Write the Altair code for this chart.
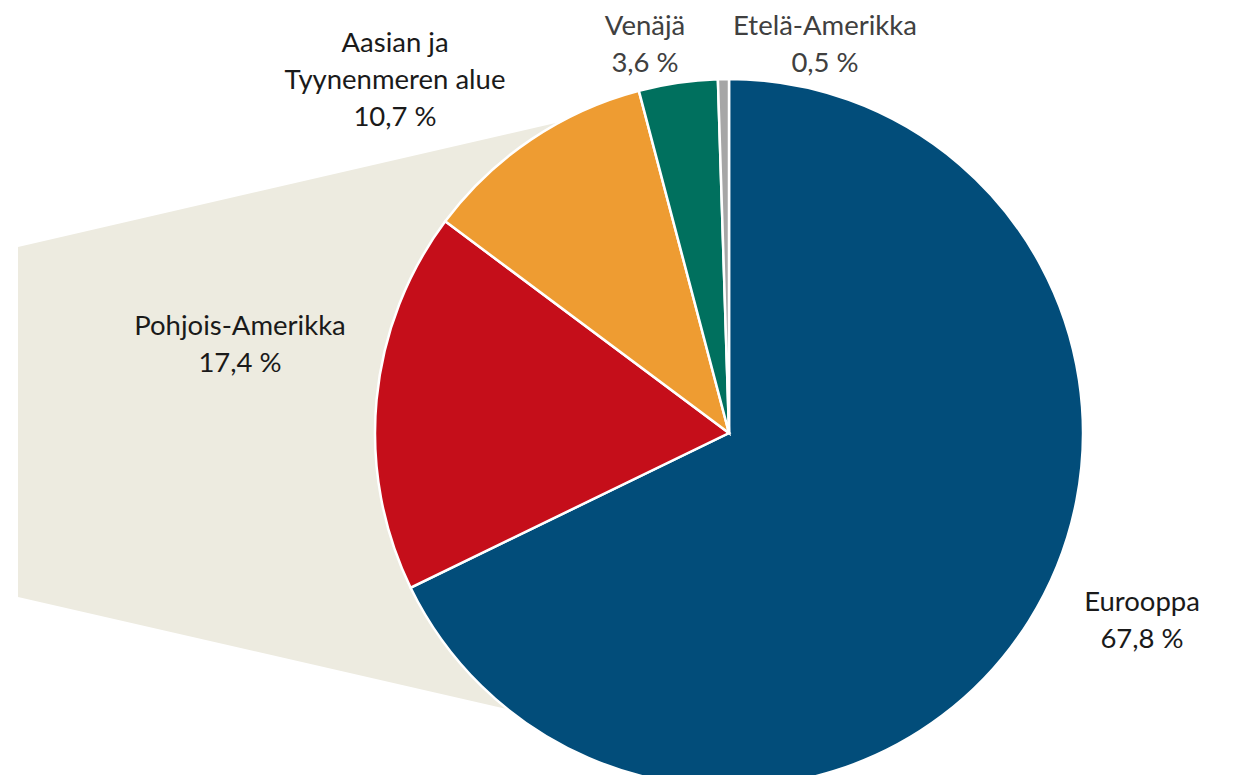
import altair as alt
import pandas as pd

# data
regions = ["Eurooppa", "Pohjois-Amerikka", "Aasian ja\nTyynenmeren alue", "Venäjä", "Etelä-Amerikka"]
shares = [67.8, 17.4, 10.7, 3.6, 0.5]
colors = ["#024D7A", "#C50E1A", "#EE9C32", "#00705E", "#A6A6A6"]
label_colors = ["#1A1A1A", "#1A1A1A", "#1A1A1A", "#404040", "#404040"]

# layout (view pixels)
W, H = 1229, 767
CX, CY, R = 721, 425, 354
label_x = [1134, 232, 387, 637, 817]
label_y = [595, 319, 36, 19, 19]
band_x = [10, 721]
band_top = [239, 75]
band_bottom = [589, 752]

pie_df = pd.DataFrame({
    "region": regions,
    "share": shares,
    "order": list(range(len(regions))),
})
lab_df = pd.DataFrame({
    "text": [f"{r}\n{str(v).replace('.', ',')} %" for r, v in zip(regions, shares)],
    "x": label_x,
    "y": label_y,
    "c": label_colors,
})
band_df = pd.DataFrame({"x": band_x, "y": band_top, "y2": band_bottom})

xs = alt.Scale(domain=[0, W], range=[0, W])
ys = alt.Scale(domain=[0, H], range=[0, H])

band = alt.Chart(band_df).mark_area(color="#EDEBE0", opacity=1).encode(
    x=alt.X("x:Q", scale=xs, axis=None),
    y=alt.Y("y:Q", scale=ys, axis=None),
    y2="y2:Q",
)

pie = alt.Chart(pie_df).mark_arc(stroke="white", strokeWidth=2.5, radius=R).encode(
    theta=alt.Theta("share:Q", stack=True),
    order=alt.Order("order:Q"),
    color=alt.Color("region:N", scale=alt.Scale(domain=regions, range=colors), legend=None),
    x=alt.value(CX),
    y=alt.value(CY),
)

labels = alt.Chart(lab_df).mark_text(
    font="Lato", fontSize=27.5, lineBreak="\n", lineHeight=37,
    align="center", baseline="middle",
).encode(
    x=alt.X("x:Q", scale=xs, axis=None),
    y=alt.Y("y:Q", scale=ys, axis=None),
    text="text:N",
    color=alt.Color("c:N", scale=None),
)

chart = alt.layer(band, pie, labels).resolve_scale(theta="independent").properties(
    width=W, height=H, padding=0, autosize=alt.AutoSizeParams(type="none")
).configure_view(stroke=None)

chart.save("out.html", embed_options={"renderer": "svg", "actions": False})
